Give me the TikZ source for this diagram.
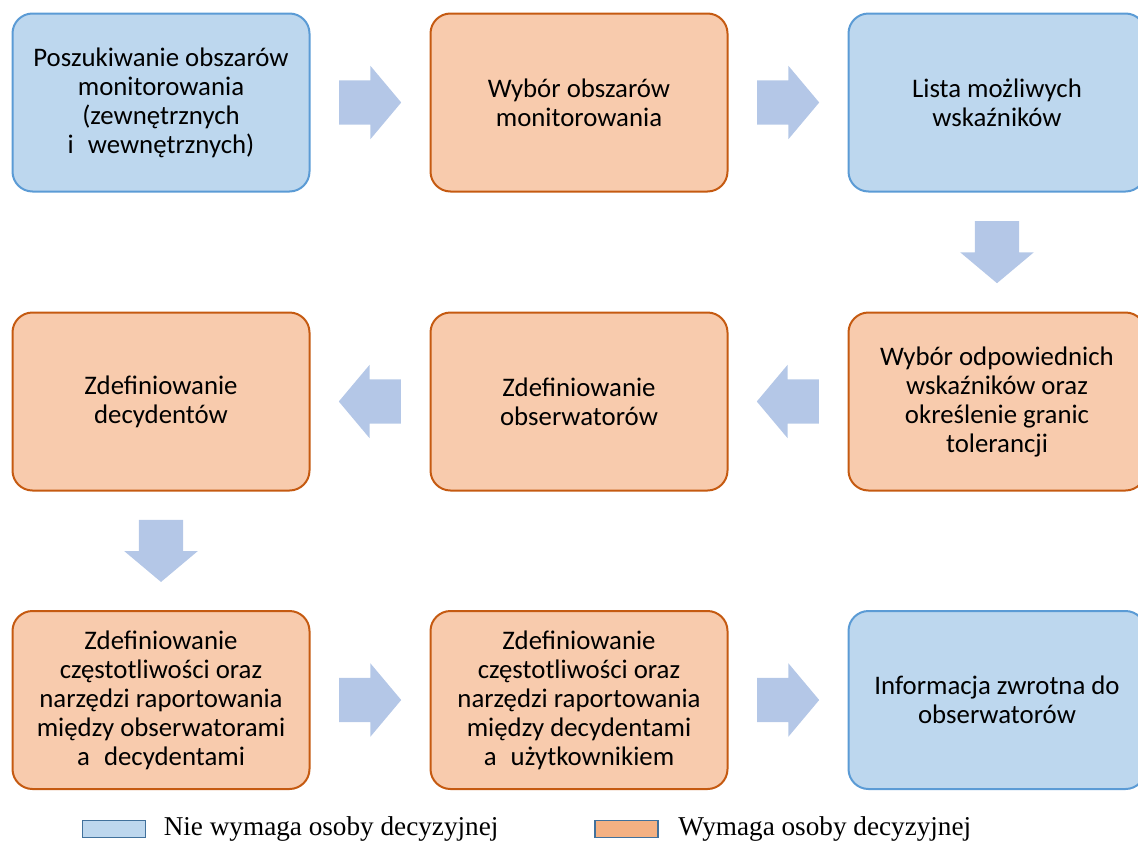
\documentclass[tikz,border=0pt]{standalone}
\usepackage{fontspec}
\setmainfont{Carlito}
\newfontfamily\legendfont{Liberation Serif}
\usetikzlibrary{positioning,calc,shapes.arrows}
\definecolor{boxblue}{HTML}{BDD7EE}
\definecolor{lineblue}{HTML}{5B9BD5}
\definecolor{boxpeach}{HTML}{F8CBAD}
\definecolor{linebrown}{HTML}{C55A11}
\definecolor{keypeach}{HTML}{F4B183}
\definecolor{keyline}{HTML}{41719C}
\definecolor{arrowblue}{HTML}{B4C7E7}
\tikzset{pbox/.style={rounded corners=20, draw, line width=2pt, minimum width=297pt, minimum height=178pt, align=center, font=\fontsize{26.8}{29}\selectfont}}
\tikzset{nodec/.style={pbox, draw=lineblue, fill=boxblue}}
\tikzset{withdec/.style={pbox, draw=linebrown, fill=boxpeach}}
\tikzset{barr/.style={single arrow, fill=arrowblue, draw=none, inner xsep=0pt, inner ysep=22pt, minimum height=62pt, single arrow head extend=14.5pt, single arrow tip angle=100, anchor=tail}}
\tikzset{keybox/.style={draw=keyline, line width=1.5pt, minimum width=63pt, minimum height=17pt, inner sep=0pt}}

\begin{document}
\begin{tikzpicture}[x=1pt,y=-1pt]
\clip (0,0) rectangle (1138,841);
\begin{scope}
	\node[nodec] at (161,102.5) (poszuk) {Poszukiwanie obszarów\\ monitorowania\\ (zewnętrznych\\ i\hspace{0.3em} wewnętrznych)};
	\node[withdec] at (579,102.5) (wybor) {Wybór obszarów\\ monitorowania};
	\node[nodec] at (997,102.5) (lista) {Lista możliwych\\ wskaźników};
	\node[withdec] at (997,401.5) (wskaz) {Wybór odpowiednich\\ wskaźników oraz\\ określenie granic\\ tolerancji};
	\node[withdec] at (579,401.5) (obserw) {Zdefiniowanie\\ obserwatorów};
	\node[withdec] at (161,401.5) (decyd) {Zdefiniowanie\\ decydentów};
	\node[withdec] at (161,700) (rapobs) {Zdefiniowanie\\ częstotliwości oraz\\ narzędzi raportowania\\ między obserwatorami\\ a\hspace{0.3em} decydentami};
	\node[withdec] at (579,700) (rapdec) {Zdefiniowanie\\ częstotliwości oraz\\ narzędzi raportowania\\ między decydentami\\ a\hspace{0.3em} użytkownikiem};
	\node[nodec] at (997,700) (info) {Informacja zwrotna do\\ obserwatorów};
\end{scope}
	% block arrows: tail sits 31pt before the middle of the gap
	\node[barr] at ($(poszuk.east)!0.5!(wybor.west)!31pt!(poszuk.east)$) (a1) {};
	\node[barr] at ($(wybor.east)!0.5!(lista.west)!31pt!(wybor.east)$) (a2) {};
	\node[barr, rotate=-90] at ($(lista.south)!0.5!(wskaz.north)!31pt!(lista.south)$) (a3) {};
	\node[barr, rotate=180] at ($(wskaz.west)!0.5!(obserw.east)!31pt!(wskaz.west)$) (a4) {};
	\node[barr, rotate=180] at ($(obserw.west)!0.5!(decyd.east)!31pt!(obserw.west)$) (a5) {};
	\node[barr, rotate=-90] at ($(decyd.south)!0.5!(rapobs.north)!31pt!(decyd.south)$) (a6) {};
	\node[barr] at ($(rapobs.east)!0.5!(rapdec.west)!31pt!(rapobs.east)$) (a7) {};
	\node[barr] at ($(rapdec.east)!0.5!(info.west)!31pt!(rapdec.east)$) (a8) {};

	% legend
	\node[keybox, fill=boxblue] at (114,829) (key1) {};
	\node[right=14pt of key1, font=\legendfont\fontsize{27.2}{30}\selectfont] (txt1) {Nie wymaga osoby decyzyjnej};
	\node[keybox, fill=keypeach] at (626.5,829) (key2) {};
	\node[right=16pt of key2, font=\legendfont\fontsize{27.2}{30}\selectfont] (txt2) {Wymaga osoby decyzyjnej};
\end{tikzpicture}
\end{document}
